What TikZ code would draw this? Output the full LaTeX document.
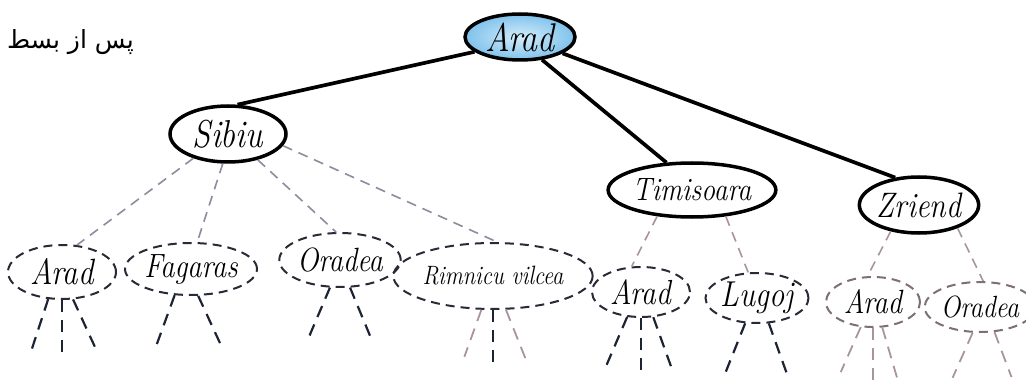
\documentclass[tikz,border=0pt]{standalone}
\usepackage{fontspec}
\TeXXeTstate=1
\newfontfamily\arabicfont[Script=Arabic]{DejaVu Sans}
\usetikzlibrary{shapes.geometric}
\definecolor{rootin}{HTML}{D4ECFA}
\definecolor{rootout}{HTML}{7FC2EC}
\definecolor{treeedge}{HTML}{8C8C9C}
\definecolor{pinkedge}{HTML}{A8949C}
\definecolor{leafline}{HTML}{2A2A36}
\definecolor{stubdark}{HTML}{1C2433}
% city names are set slightly tall
\newcommand\cityname[1]{\scalebox{1}[1.18]{#1}}
\begin{document}
\begin{tikzpicture}[x=1pt,y=-1pt,
  fs/.style={font=\fontsize{#1}{#1}\selectfont\itshape},
  state/.style={ellipse, draw=black, line width=3.5pt, inner sep=0pt},
  leaf/.style={ellipse, draw=leafline, line width=2pt, dash pattern=on 9pt off 6pt, inner sep=0pt},
  sz/.style 2 args={minimum width=#1pt, minimum height=#2pt},
  tree/.style={line width=3.7pt, black},
  branch/.style={line width=1.6pt, draw=treeedge, dash pattern=on 10pt off 7pt},
  pbranch/.style={line width=1.6pt, draw=pinkedge, dash pattern=on 10pt off 7pt},
  stub/.style={line width=2.2pt, draw=stubdark, dash pattern=on 12pt off 8pt},
  pstub/.style={line width=1.8pt, draw=pinkedge, dash pattern=on 12pt off 8pt}]
\useasboundingbox (0,0) rectangle (1026,385);

% heading
\node[anchor=east, inner sep=0pt] (title) at (134,42)
  {\fontsize{25}{27}\selectfont\arabicfont\beginR پس از بسط\endR};

% expanded states
\node[state, sz={110}{46}, fs=34, inner color=rootin, outer color=rootout] (root) at (520,37) {\cityname{Arad}};
\node[state, sz={116}{56}, fs=33, fill=white] (sibiu) at (228,134) {\cityname{Sibiu}};
\node[state, sz={140}{54}, fs=27.5, fill=white] (timi) at (692,190) {\cityname{Timisoara}};
\node[state, sz={112}{56}, fs=30, fill=white] (zer) at (919,205) {\cityname{Zriend}};

% frontier states
\node[leaf, sz={108}{54}, fs=31] (a1) at (62,272) {\cityname{Arad}};
\node[leaf, sz={112}{52}, fs=28.5] (fag) at (191,269) {\cityname{Fagaras}};
\node[leaf, sz={110}{54}, fs=28.5] (ora) at (340,260) {\cityname{Oradea}};
\node[leaf, sz={150}{66}, fs=22.5] (rim) at (493,276) {\cityname{Rimnicu vilcea}};
\node[leaf, sz={98}{50}, fs=29.5] (a2) at (641,292) {\cityname{Arad}};
\node[leaf, sz={96}{50}, fs=30.5] (lug) at (757,298) {\cityname{Lugoj}};
\node[leaf, sz={94}{50}, fs=28.5, draw=pinkedge!75!black] (a3) at (873,302) {\cityname{Arad}};
\node[leaf, sz={94}{50}, fs=26, draw=pinkedge!75!black] (ora2) at (980,307) {\cityname{Oradea}};

% solid tree edges
\draw[tree] (root.198) -- (sibiu.72);
\draw[tree] (root.314) -- (timi.133);
\draw[tree] (root.339) -- (zer.131);

% dashed edges to frontier
\draw[branch] (sibiu.215) -- (a1.61);
\draw[branch] (sibiu.260) -- (fag.77);
\draw[branch] (sibiu.319) -- (ora.98);
\draw[branch] (sibiu.348) -- (rim.83);
\draw[pbranch] (timi.217) -- (a2.110);
\draw[pbranch] (timi.322) -- (lug.109);
\draw[pbranch] (zer.223) -- (a3.102);
\draw[pbranch] (zer.329) -- (ora2.83);

% unexpanded successors
\draw[stub] (a1.243) -- ++(-18,55);
\draw[stub] (a1.270) -- ++(0,58);
\draw[stub] (a1.292) -- ++(23,50);
\draw[stub] (fag.238) -- ++(-20,55);
\draw[stub] (fag.285) -- ++(24,52);
\draw[stub] (ora.250) -- ++(-23,54);
\draw[stub] (ora.290) -- ++(22,53);
\draw[pstub] (rim.251) -- ++(-17,47);
\draw[stub] (rim.270) -- ++(0,54);
\draw[pstub] (rim.291) -- ++(20,50);
\draw[stub] (a2.241) -- ++(-21,49);
\draw[stub] (a2.270) -- ++(0,55);
\draw[stub] (a2.296) -- ++(18,50);
\draw[stub] (lug.245) -- ++(-20,50);
\draw[stub] (lug.295) -- ++(19,53);
\draw[pstub] (a3.244) -- ++(-20,45);
\draw[pstub] (a3.270) -- ++(0,55);
\draw[pstub] (a3.290) -- ++(15,51);
\draw[pstub] (ora2.254) -- ++(-20,45);
\draw[pstub] (ora2.300) -- ++(17,45);
\end{tikzpicture}
\end{document}
